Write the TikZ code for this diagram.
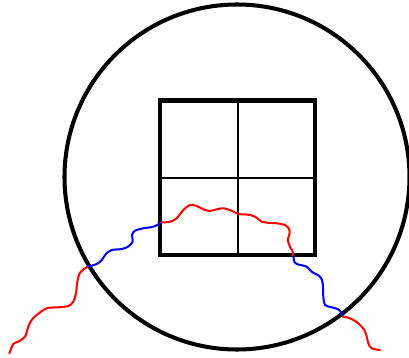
\documentclass[tikz,border=0pt]{standalone}
\begin{document}
\begin{tikzpicture}[x=0.02cm,y=-0.02cm,
  outline/.style={line width=2.3pt},
  grid line/.style={line width=0.85pt},
  wave/.style={line width=1.15pt, line cap=round, line join=round}]
\useasboundingbox (0,0) rectangle (409,358);
\coordinate (c) at (237,177);
\draw[outline] (c) circle [radius=172.5];
\draw[outline, line join=miter] (160,100.5) rectangle (315,255);
\draw[grid line] (237.8,100.5) -- (237.8,255);
\draw[grid line] (160,177.8) -- (315,177.8);
\coordinate (p1) at (88.5,266.5);
\coordinate (p2) at (161.5,222.5);
\coordinate (p3) at (293.3,256);
\coordinate (p4) at (342.7,316.5);
\draw[wave, red] plot[smooth, tension=0.55] coordinates {
 (9.3,353.3) (13.3,344) (18.3,341.7) (25,336.7) (28.3,326.7) (31.7,320)
 (36.7,315) (46.7,308.3) (58.3,307.3) (68.3,306) (73.3,301.7) (76,293)
 (77.3,281.7) (80,272.7) (85,268.3) (88.5,266.5)};
\draw[wave, blue] plot[smooth, tension=0.55] coordinates {
 (88.5,266.5) (96.7,264) (101.7,260) (106.7,253) (111.7,250) (121.7,249)
 (128,246.7) (132.7,241.7) (132,235) (135,230.7) (143.3,228.3) (153.3,226.7)
 (161.5,222.5)};
\draw[wave, red] plot[smooth, tension=0.55] coordinates {
 (161.5,222.5) (170,221.7) (176.7,218.3) (183.3,210) (190,205) (196.7,206)
 (203.3,209.3) (210,211) (216.7,209.3) (223.3,208.3) (231.7,210.7) (238.3,214)
 (248.3,214.7) (255,216.7) (261.7,221.7) (266.7,222.7) (276.7,223.3) (285,225)
 (289.3,229.3) (289.3,235) (287.7,240) (290,246.7) (292.7,251.7) (293.3,256)};
\draw[wave, blue] plot[smooth, tension=0.55] coordinates {
 (293.3,256) (294.5,262) (298.3,264.5) (306.7,266.7) (311.7,271.7) (320,276.7)
 (322.7,283.3) (323.3,296.7) (325,305) (331.7,307.3) (338.3,309.3) (341.2,313)
 (342.7,316.5)};
\draw[wave, red] plot[smooth, tension=0.55] coordinates {
 (342.7,316.5) (350,318.3) (358.3,323.3) (364.3,330) (366.7,336.7) (368.3,343.3)
 (371.7,348.3) (380,350)};
\end{tikzpicture}
\end{document}
